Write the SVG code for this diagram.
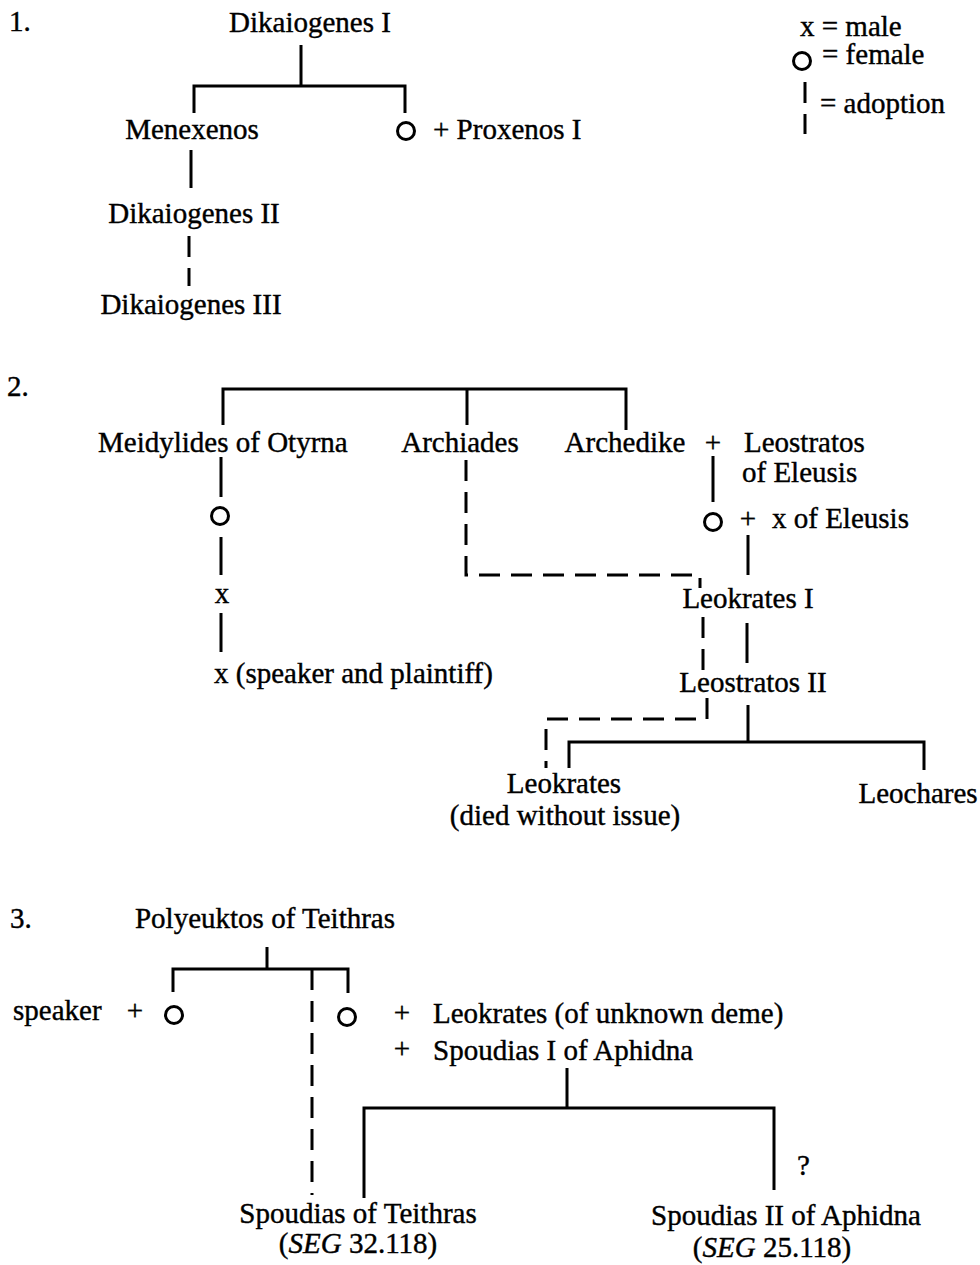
<svg xmlns="http://www.w3.org/2000/svg" width="980" height="1265" viewBox="0 0 980 1265">
<style>
text{font-family:"Liberation Serif","Times New Roman",serif;font-size:29px;fill:#000;stroke:#000;stroke-width:0.4}
.m{text-anchor:middle}
.ln{fill:none;stroke:#000;stroke-width:3}
.ad{fill:none;stroke:#000;stroke-width:3;stroke-dasharray:21 11}
.f{fill:#fff;stroke:#000;stroke-width:3}
.i{font-style:italic}
</style>
<rect width="980" height="1265" fill="#fff"/>
<g id="labels">
<text x="9" y="31">1.</text>
<text x="7" y="396">2.</text>
<text x="10" y="928">3.</text>
</g>
<g id="legend">
<text x="800" y="36">x = male</text>
<circle class="f" cx="802" cy="61" r="8.5"/>
<text x="822" y="64">= female</text>
<path class="ad" d="M805 82V134"/>
<text x="820" y="113">= adoption</text>
</g>
<g id="connectors">
<path class="ln" d="M301 45V86M194 113V86H405V113M191 150V188"/>
<path class="ad" d="M189 236V286"/>
<path class="ln" d="M223 425V389H626V430M467 389V425M221 457V497M221 537V575M221 613V652M713 456V502M748 535V575M747 623V663M748 705V742M569 768V742H924V770"/>
<path class="ad" d="M466 460V575H700V588"/>
<path class="ad" d="M703 617V670"/>
<path class="ad" d="M707 698V719H546V768"/>
<path class="ln" d="M267 947V969M173 992V969H348V993M567 1068V1108M364 1198V1108H774V1190"/>
<path class="ad" d="M312 969V1195"/>
</g>
<g id="dikaiogenes1"><text class="m" x="310" y="32">Dikaiogenes I</text></g>
<g id="menexenos"><text class="m" x="192" y="139">Menexenos</text></g>
<g id="female1"><circle class="f" cx="406" cy="131" r="8.5"/><text x="433" y="139">+ Proxenos I</text></g>
<g id="dikaiogenes2"><text class="m" x="194" y="223">Dikaiogenes II</text></g>
<g id="dikaiogenes3"><text class="m" x="191" y="314">Dikaiogenes III</text></g>
<g id="meidylides"><text x="98" y="452">Meidylides of Otyrna</text></g>
<g id="archiades"><text class="m" x="460" y="452">Archiades</text></g>
<g id="archedike"><text class="m" x="625" y="452">Archedike</text><text class="m" x="713" y="452">+</text><text x="744" y="452">Leostratos</text><text x="742" y="482">of Eleusis</text></g>
<g id="female2"><circle class="f" cx="220" cy="516" r="8.5"/></g>
<g id="male1"><text class="m" x="222" y="603">x</text></g>
<g id="speaker1"><text x="214" y="683">x (speaker and plaintiff)</text></g>
<g id="female3"><circle class="f" cx="713" cy="522" r="8.5"/><text class="m" x="748" y="528">+</text><text x="772" y="528">x of Eleusis</text></g>
<g id="leokrates1"><text class="m" x="748" y="608">Leokrates I</text></g>
<g id="leostratos2"><text class="m" x="753" y="692">Leostratos II</text></g>
<g id="leokrates"><text class="m" x="564" y="793">Leokrates</text><text class="m" x="565" y="825">(died without issue)</text></g>
<g id="leochares"><text class="m" x="918" y="803">Leochares</text></g>
<g id="polyeuktos"><text class="m" x="265" y="928">Polyeuktos of Teithras</text></g>
<g id="female4"><text x="13" y="1020">speaker</text><text class="m" x="135" y="1020">+</text><circle class="f" cx="174" cy="1015" r="8.5"/></g>
<g id="female5"><circle class="f" cx="347" cy="1017" r="8.5"/><text class="m" x="402" y="1022">+</text><text x="433" y="1023">Leokrates (of unknown deme)</text><text class="m" x="402" y="1058">+</text><text x="433" y="1060">Spoudias I of Aphidna</text></g>
<g id="spoudias-teithras"><text class="m" x="358" y="1223">Spoudias of Teithras</text><text class="m" x="358" y="1253">(<tspan class="i">SEG</tspan> 32.118)</text></g>
<g id="spoudias2"><text x="797" y="1175">?</text><text class="m" x="786" y="1225">Spoudias II of Aphidna</text><text class="m" x="772" y="1257">(<tspan class="i">SEG</tspan> 25.118)</text></g>
</svg>
